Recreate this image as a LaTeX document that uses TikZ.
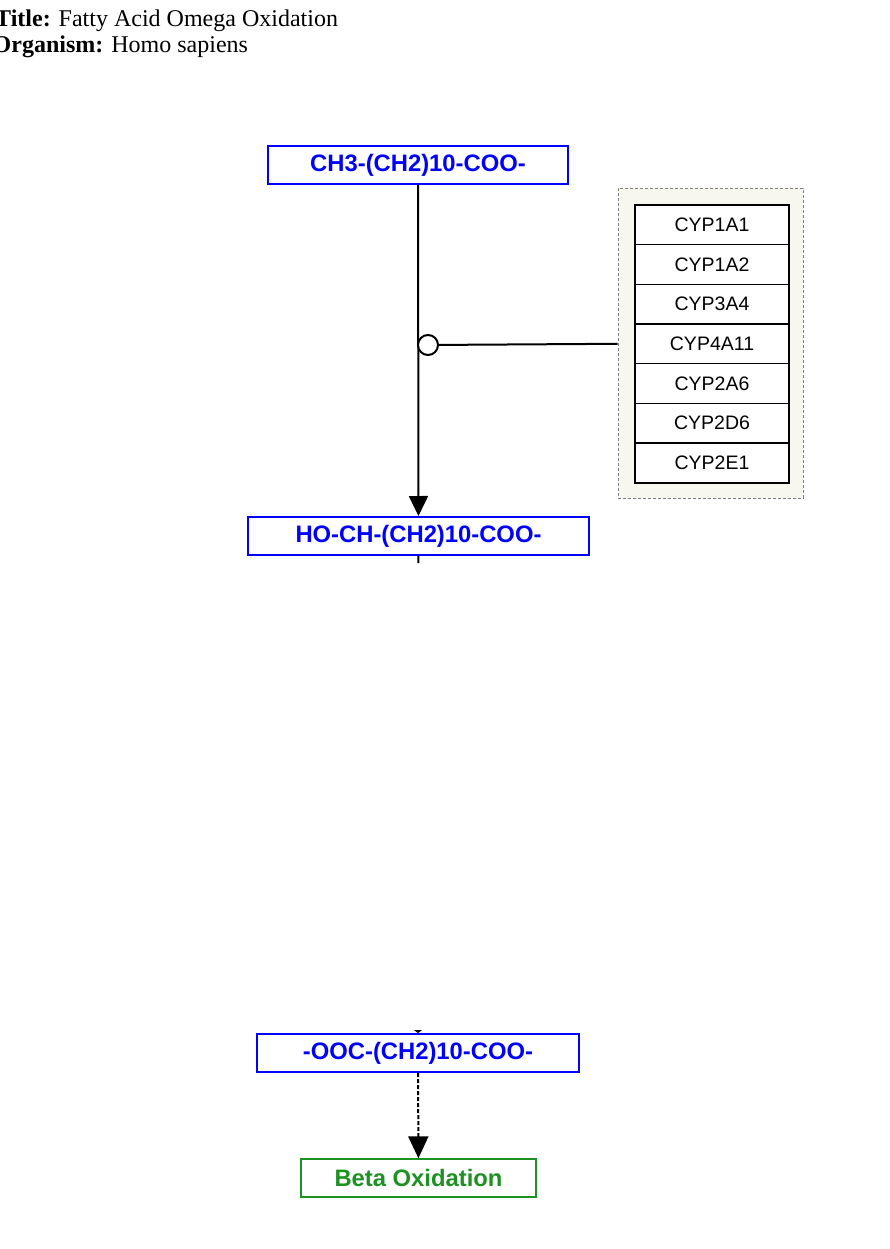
\documentclass[tikz,border=0pt]{standalone}
\usepackage{fontspec}
\setmainfont{Liberation Serif}
\newfontfamily\arialfont{Liberation Sans}
\usetikzlibrary{arrows.meta}
\definecolor{metblue}{RGB}{0,0,255}
\definecolor{pathgreen}{RGB}{30,145,35}
\definecolor{grpfill}{RGB}{247,247,240}

\begin{document}
\begin{tikzpicture}[x=1pt,y=-1pt,
        metabolite/.style={draw=metblue,line width=2pt,fill=white,text=metblue,inner sep=0pt,
            minimum height=38pt,font=\arialfont\bfseries\fontsize{23.8}{24}\selectfont},
        pathway/.style={draw=pathgreen,line width=1.4pt,fill=white,text=pathgreen,inner sep=0pt,
            minimum height=38pt,font=\arialfont\bfseries\fontsize{23.8}{24}\selectfont},
        gene/.style={draw,line width=1.5pt,fill=white,inner sep=0pt,minimum width=154pt,
            minimum height=39.7pt,font=\arialfont\fontsize{19.5}{20}\selectfont},
        group/.style={draw=gray,dash pattern=on 3pt off 2pt,line width=0.8pt,fill=grpfill,
            inner sep=0pt,minimum width=185pt,minimum height=310pt}]
        \useasboundingbox (0,0) rectangle (889,1249);

        % title block
        \node[anchor=base west,inner sep=0pt,font=\fontsize{24}{26}\selectfont] (title) at (-5,27) {\textbf{Title:} Fatty Acid Omega Oxidation};
        \node[anchor=base west,inner sep=0pt,font=\fontsize{24}{26}\selectfont] (organism) at (-7.5,53) {\textbf{Organism:} Homo sapiens};

        % metabolites
        \node[metabolite,minimum width=300pt] (ch3) at (418,165) {CH3-(CH2)10-COO-};
        \node[metabolite,minimum width=341pt] (hoch) at (418.5,536) {HO-CH-(CH2)10-COO-};
        \node[metabolite,minimum width=322pt] (ooc) at (418,1053) {-OOC-(CH2)10-COO-};
        \node[pathway,minimum width=235pt] (beta) at (418.5,1178) {Beta Oxidation};

        % enzyme group
        \node[group] (grp) at (710.5,343) {};
        \foreach \g [count=\i] in {CYP1A1,CYP1A2,CYP3A4,CYP4A11,CYP2A6,CYP2D6,CYP2E1}
            \node[gene] (cyp\i) at (712,185+\i*39.7) {\g};

        % conversions
        \draw[line width=2pt,-{Triangle[width=19pt,length=20pt]}] (ch3) -- (hoch);
        \node[circle,draw,line width=2pt,fill=white,minimum size=20pt,inner sep=0pt] (cat) at (428,345) {};
        \draw[line width=2pt] (grp.west |- cyp4) -- (cat);
        \draw[line width=2pt,dash pattern=on 7pt off 2000pt,-{Triangle[width=8pt,length=3pt]}] (hoch) -- (ooc);
        \draw[line width=2pt,dash pattern=on 4pt off 2pt,-{Triangle[width=20pt,length=22pt]}] (ooc) -- (beta);
    \end{tikzpicture}
\end{document}
